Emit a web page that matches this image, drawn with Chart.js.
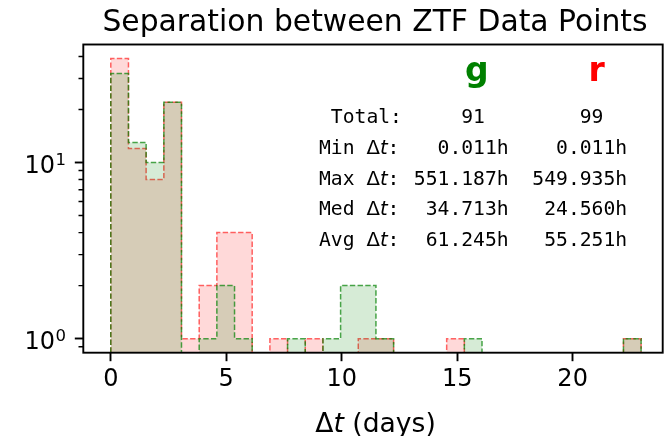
<!DOCTYPE html>
<html>
<head>
<meta charset="utf-8">
<script src="https://cdn.jsdelivr.net/npm/chart.js@4.4.1/dist/chart.umd.min.js"></script>
<style>
  html, body { margin: 0; padding: 0; background: #fff; }
  #wrap { width: 667px; height: 436px; }
</style>
</head>
<body>
<div id="wrap"><canvas id="hist" width="667" height="436"></canvas></div>
<script>
// Separation between ZTF data points - step histograms, log y

// bin edges (days), 30 bins
const binEdges = [0, 0.766, 1.531, 2.297, 3.062, 3.828, 4.593, 5.359, 6.124, 6.890,
                  7.655, 8.421, 9.186, 9.952, 10.717, 11.483, 12.248, 13.014, 13.780, 14.545,
                  15.311, 16.076, 16.842, 17.607, 18.373, 19.138, 19.904, 20.669, 21.435, 22.200,
                  22.966];

// counts per bin
const gCounts = [32, 13, 10, 22, 0, 1, 2, 1, 0, 0, 1, 0, 1, 2, 2, 1, 0, 0, 0, 0, 1, 0, 0, 0, 0, 0, 0, 0, 0, 1];
const rCounts = [39, 12, 8, 22, 1, 2, 4, 4, 0, 1, 0, 1, 0, 0, 1, 1, 0, 0, 0, 1, 0, 0, 0, 0, 0, 0, 0, 0, 0, 1];

const xTicks = [0, 5, 10, 15, 20];
const yMajorTicks = [1, 10];
const yMinorTicks = [0.9, 2, 3, 4, 5, 6, 7, 8, 9, 20, 30, 40];
const yTickExp = { 1: '0', 10: '1' };

// stats box
const statNames = ['Total', 'Min', 'Max', 'Med', 'Avg'];
const gStats = ['91', '0.011h', '551.187h', '34.713h', '61.245h'];
const rStats = ['99', '0.011h', '549.935h', '24.560h', '55.251h'];

const yMin = 0.832;
const yMax = 46.8;

const SANS = '"DejaVu Sans", sans-serif';
const MONO = '"DejaVu Sans Mono", monospace';

function stepPoints(counts) {
    const n = counts.length;
    const pts = [{ x: binEdges[0], y: yMin }];
    counts.forEach((c, i) => pts.push({ x: binEdges[i], y: c > 0 ? c : yMin }));
    pts.push({ x: binEdges[n], y: counts[n - 1] > 0 ? counts[n - 1] : yMin });
    pts.push({ x: binEdges[n], y: yMin });
    return pts;
}

const histStyle = {
    stepped: true,
    fill: 'start',
    borderWidth: 1.5,
    borderDash: [5.4, 2.3],
    pointRadius: 0,
    tension: 0,
    clip: 0
};

// draws frame, minor ticks, y tick labels and all the text
const annotate = {
    id: 'annotate',
    afterDatasetsDraw(chart) {
        const { ctx, chartArea: a } = chart;
        const ys = chart.scales.y;
        ctx.save();

        // frame
        ctx.strokeStyle = '#000';
        ctx.lineWidth = 1.9;
        ctx.strokeRect(a.left, a.top, a.right - a.left, a.bottom - a.top);

        // minor y ticks
        ctx.lineWidth = 1.45;
        ctx.beginPath();
        yMinorTicks.forEach(v => {
            const py = ys.getPixelForValue(v);
            ctx.moveTo(a.left, py);
            ctx.lineTo(a.left - 4.8, py);
        });
        ctx.stroke();

        ctx.fillStyle = '#000';
        ctx.textBaseline = 'alphabetic';

        // y tick labels 10^n
        yMajorTicks.forEach(v => {
            const py = ys.getPixelForValue(v);
            ctx.font = '24px ' + SANS;
            ctx.textAlign = 'right';
            ctx.fillText('10', 55, py + 10.7);
            ctx.font = '16.5px ' + SANS;
            ctx.textAlign = 'left';
            ctx.fillText(yTickExp[v], 55.5, py + 2);
        });

        // title
        ctx.font = '29.8px ' + SANS;
        ctx.textAlign = 'center';
        ctx.fillText('Separation between ZTF Data Points', 375, 31);

        // x label: Δt (days)
        ctx.textAlign = 'left';
        const fs = 26.6;
        ctx.font = fs + 'px ' + SANS;
        const wD = ctx.measureText('\u0394').width;
        const wRest = ctx.measureText(' (days)').width;
        ctx.font = 'italic ' + fs + 'px ' + SANS;
        const wT = ctx.measureText('t').width;
        const lx = 375.5 - (wD + wT + wRest) / 2;
        ctx.font = fs + 'px ' + SANS;
        ctx.fillText('\u0394', lx, 431.5);
        ctx.font = 'italic ' + fs + 'px ' + SANS;
        ctx.fillText('t', lx + wD, 431.5);
        ctx.font = fs + 'px ' + SANS;
        ctx.fillText(' (days)', lx + wD + wT, 431.5);

        // band headers
        ctx.font = 'bold 33px ' + SANS;
        ctx.textAlign = 'center';
        ctx.fillStyle = 'green';
        ctx.fillText('g', 476.7, 81);
        ctx.fillStyle = 'red';
        ctx.fillText('r', 596.7, 81);

        // stats table
        ctx.fillStyle = '#000';
        ctx.font = '19.7px ' + MONO;
        const cw = ctx.measureText('0').width;
        const x0 = 319;
        statNames.forEach((name, i) => {
            const by = 122.7 + i * 30.9;
            ctx.textAlign = 'left';
            ctx.font = '19.7px ' + MONO;
            if (i === 0) {
                ctx.fillText(' ' + name + ':', x0, by);
            } else {
                ctx.fillText(name + ' ', x0, by);
                let px = x0 + 4 * cw;
                ctx.font = '19.7px ' + SANS;
                ctx.fillText('\u0394', px, by);
                px += ctx.measureText('\u0394').width;
                ctx.font = 'italic 19.7px ' + SANS;
                ctx.fillText('t', px, by);
                px += ctx.measureText('t').width;
                ctx.font = '19.7px ' + MONO;
                ctx.fillText(':', px, by);
            }
            ctx.textAlign = 'right';
            const gEnd = i === 0 ? 14 : 16;
            const rEnd = i === 0 ? 24 : 26;
            ctx.fillText(gStats[i], x0 + gEnd * cw, by);
            ctx.fillText(rStats[i], x0 + rEnd * cw, by);
        });

        ctx.restore();
    }
};

new Chart(document.getElementById('hist').getContext('2d'), {
    type: 'line',
    data: {
        datasets: [
            {
                ...histStyle,
                label: 'g',
                data: stepPoints(gCounts),
                borderColor: 'rgba(0, 128, 0, 0.7)',
                backgroundColor: 'rgba(0, 128, 0, 0.16)'
            },
            {
                ...histStyle,
                label: 'r',
                data: stepPoints(rCounts),
                borderColor: 'rgba(255, 0, 0, 0.6)',
                backgroundColor: 'rgba(255, 0, 0, 0.15)'
            }
        ]
    },
    plugins: [annotate],
    options: {
        responsive: false,
        animation: false,
        devicePixelRatio: 1,
        layout: { padding: { top: 44.5, right: 4.3, left: 0, bottom: 0 } },
        plugins: {
            legend: { display: false },
            tooltip: { enabled: false },
            title: { display: false }
        },
        scales: {
            x: {
                type: 'linear',
                min: -1.19,
                max: 23.9,
                afterBuildTicks: (s) => { s.ticks = xTicks.map(v => ({ value: v })); },
                afterFit: (s) => { s.height = 83.3; },
                border: { display: false },
                grid: {
                    drawOnChartArea: false,
                    drawTicks: true,
                    tickLength: 8.5,
                    tickWidth: 1.9,
                    tickColor: '#000'
                },
                ticks: {
                    color: '#000',
                    padding: 4,
                    maxRotation: 0,
                    autoSkip: false,
                    font: { family: 'DejaVu Sans', size: 24 }
                }
            },
            y: {
                type: 'logarithmic',
                min: yMin,
                max: yMax,
                afterBuildTicks: (s) => { s.ticks = yMajorTicks.map(v => ({ value: v, major: true })); },
                afterFit: (s) => { s.width = 83.3; },
                border: { display: false },
                grid: {
                    drawOnChartArea: false,
                    drawTicks: true,
                    tickLength: 8.5,
                    tickWidth: 1.9,
                    tickColor: '#000'
                },
                ticks: {
                    color: '#000',
                    padding: 8,
                    autoSkip: false,
                    font: { family: 'DejaVu Sans', size: 24 },
                    callback: () => ''
                }
            }
        }
    }
});
</script>
</body>
</html>
